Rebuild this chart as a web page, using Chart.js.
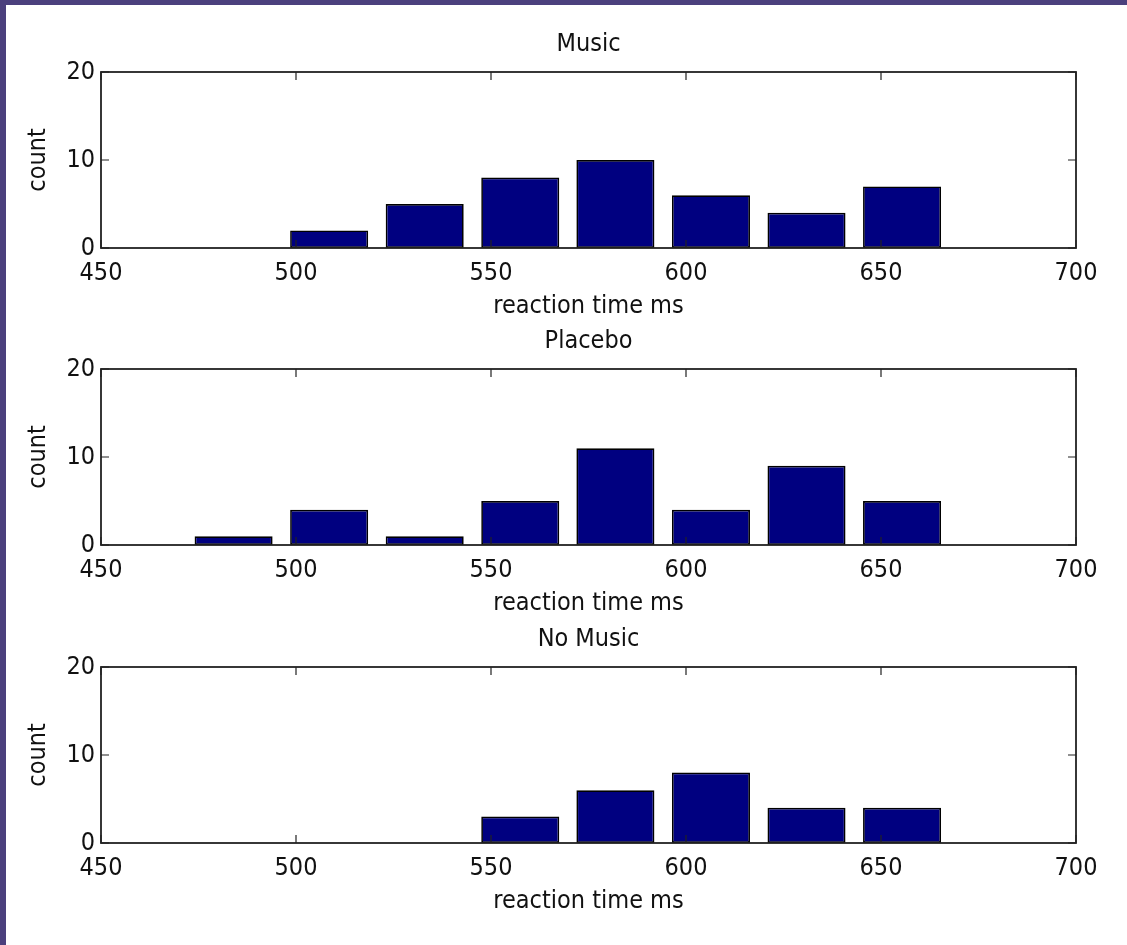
<!DOCTYPE html>
<html>
<head>
<meta charset="utf-8">
<title>Reaction time histograms</title>
<script src="https://cdn.jsdelivr.net/npm/chart.js@4.4.1/dist/chart.umd.min.js"></script>
<style>
  html, body { margin: 0; padding: 0; background: #fff; }
  body { width: 1127px; height: 945px; position: relative; overflow: hidden; }
  .edge-top { position: absolute; left: 0; top: 0; width: 1127px; height: 5px; background: #4b407d; z-index: 2; }
  .edge-left { position: absolute; left: 0; top: 0; width: 6px; height: 945px; background: #4b407d; z-index: 2; }
  .panel { position: absolute; left: 0; }
  .panel canvas { display: block; }
</style>
</head>
<body>
<div class="edge-top"></div>
<div class="edge-left"></div>
<div class="panel" style="top:0px"><canvas id="musicChart" width="1127" height="330"></canvas></div>
<div class="panel" style="top:297px"><canvas id="placeboChart" width="1127" height="330"></canvas></div>
<div class="panel" style="top:595px"><canvas id="noMusicChart" width="1127" height="330"></canvas></div>

<script>
// === Data ===
const binCenters = [484.0, 508.5, 533.0, 557.5, 581.9, 606.4, 630.9, 655.4];
const musicCounts = [0, 2, 5, 8, 10, 6, 4, 7];
const placeboCounts = [1, 4, 1, 5, 11, 4, 9, 5];
const noMusicCounts = [0, 0, 0, 3, 6, 8, 4, 4];
const xTicks = [450, 500, 550, 600, 650, 700];
const yTicks = [0, 10, 20];

(function () {
  'use strict';

  const FONT = '"DejaVu Sans Condensed", "DejaVu Sans", sans-serif';
  const TEXT = '#111111';
  const BAR = '#000080';
  const TICK_LEN = 8;

  // matplotlib-style box with inward ticks on all four sides
  const frameTicks = {
    id: 'frameTicks',
    afterDatasetsDraw(chart) {
      const { ctx, chartArea: a, scales: { x, y } } = chart;
      ctx.save();
      ctx.strokeStyle = '#222222';
      ctx.lineWidth = 1.2;
      ctx.beginPath();
      x.ticks.forEach(t => {
        const px = x.getPixelForValue(t.value);
        ctx.moveTo(px, a.bottom);
        ctx.lineTo(px, a.bottom - TICK_LEN);
        ctx.moveTo(px, a.top);
        ctx.lineTo(px, a.top + TICK_LEN);
      });
      y.ticks.forEach(t => {
        const py = y.getPixelForValue(t.value);
        ctx.moveTo(a.left, py);
        ctx.lineTo(a.left + TICK_LEN, py);
        ctx.moveTo(a.right, py);
        ctx.lineTo(a.right - TICK_LEN, py);
      });
      ctx.stroke();
      ctx.lineWidth = 1.8;
      ctx.strokeRect(a.left, a.top, a.width, a.height);
      ctx.restore();
    }
  };

  function makeHistogram(canvasId, title, counts) {
    const points = binCenters
      .map((c, i) => ({ x: c, y: counts[i] }))
      .filter(p => p.y > 0);

    new Chart(document.getElementById(canvasId), {
      type: 'bar',
      data: {
        datasets: [{
          data: points,
          backgroundColor: BAR,
          borderColor: '#000000',
          borderWidth: 1.7,
          borderSkipped: false,
          categoryPercentage: 1.0,
          barPercentage: 0.82
        }]
      },
      options: {
        responsive: false,
        animation: false,
        events: [],
        layout: { padding: { left: 0, right: 51, top: 0, bottom: 0 } },
        plugins: {
          legend: { display: false },
          tooltip: { enabled: false },
          title: {
            display: true,
            text: title,
            fullSize: false,
            color: TEXT,
            font: { family: FONT, size: 25, weight: 'normal' },
            padding: { top: 29, bottom: 13 }
          }
        },
        scales: {
          x: {
            type: 'linear',
            min: xTicks[0],
            max: xTicks[xTicks.length - 1],
            offset: false,
            afterBuildTicks: scale => {
              scale.ticks = xTicks.map(v => ({ value: v }));
            },
            afterFit: scale => { scale.height = 82; },
            grid: { display: false, drawTicks: false },
            border: { display: false },
            ticks: {
              color: TEXT,
              padding: 10,
              maxRotation: 0,
              autoSkip: false,
              font: { family: FONT, size: 25 }
            },
            title: {
              display: true,
              text: 'reaction time ms',
              color: TEXT,
              font: { family: FONT, size: 25 },
              padding: { top: 0, bottom: 9 }
            }
          },
          y: {
            min: yTicks[0],
            max: yTicks[yTicks.length - 1],
            afterBuildTicks: scale => {
              scale.ticks = yTicks.map(v => ({ value: v }));
            },
            afterFit: scale => { scale.width = 101; },
            grid: { display: false, drawTicks: false },
            border: { display: false },
            ticks: {
              color: TEXT,
              padding: 6,
              font: { family: FONT, size: 25 }
            },
            title: {
              display: true,
              text: 'count',
              color: TEXT,
              font: { family: FONT, size: 25 },
              padding: { top: 23, bottom: 0 }
            }
          }
        }
      },
      plugins: [frameTicks]
    });
  }

  makeHistogram('musicChart', 'Music', musicCounts);
  makeHistogram('placeboChart', 'Placebo', placeboCounts);
  makeHistogram('noMusicChart', 'No Music', noMusicCounts);
})();
</script>
</body>
</html>
